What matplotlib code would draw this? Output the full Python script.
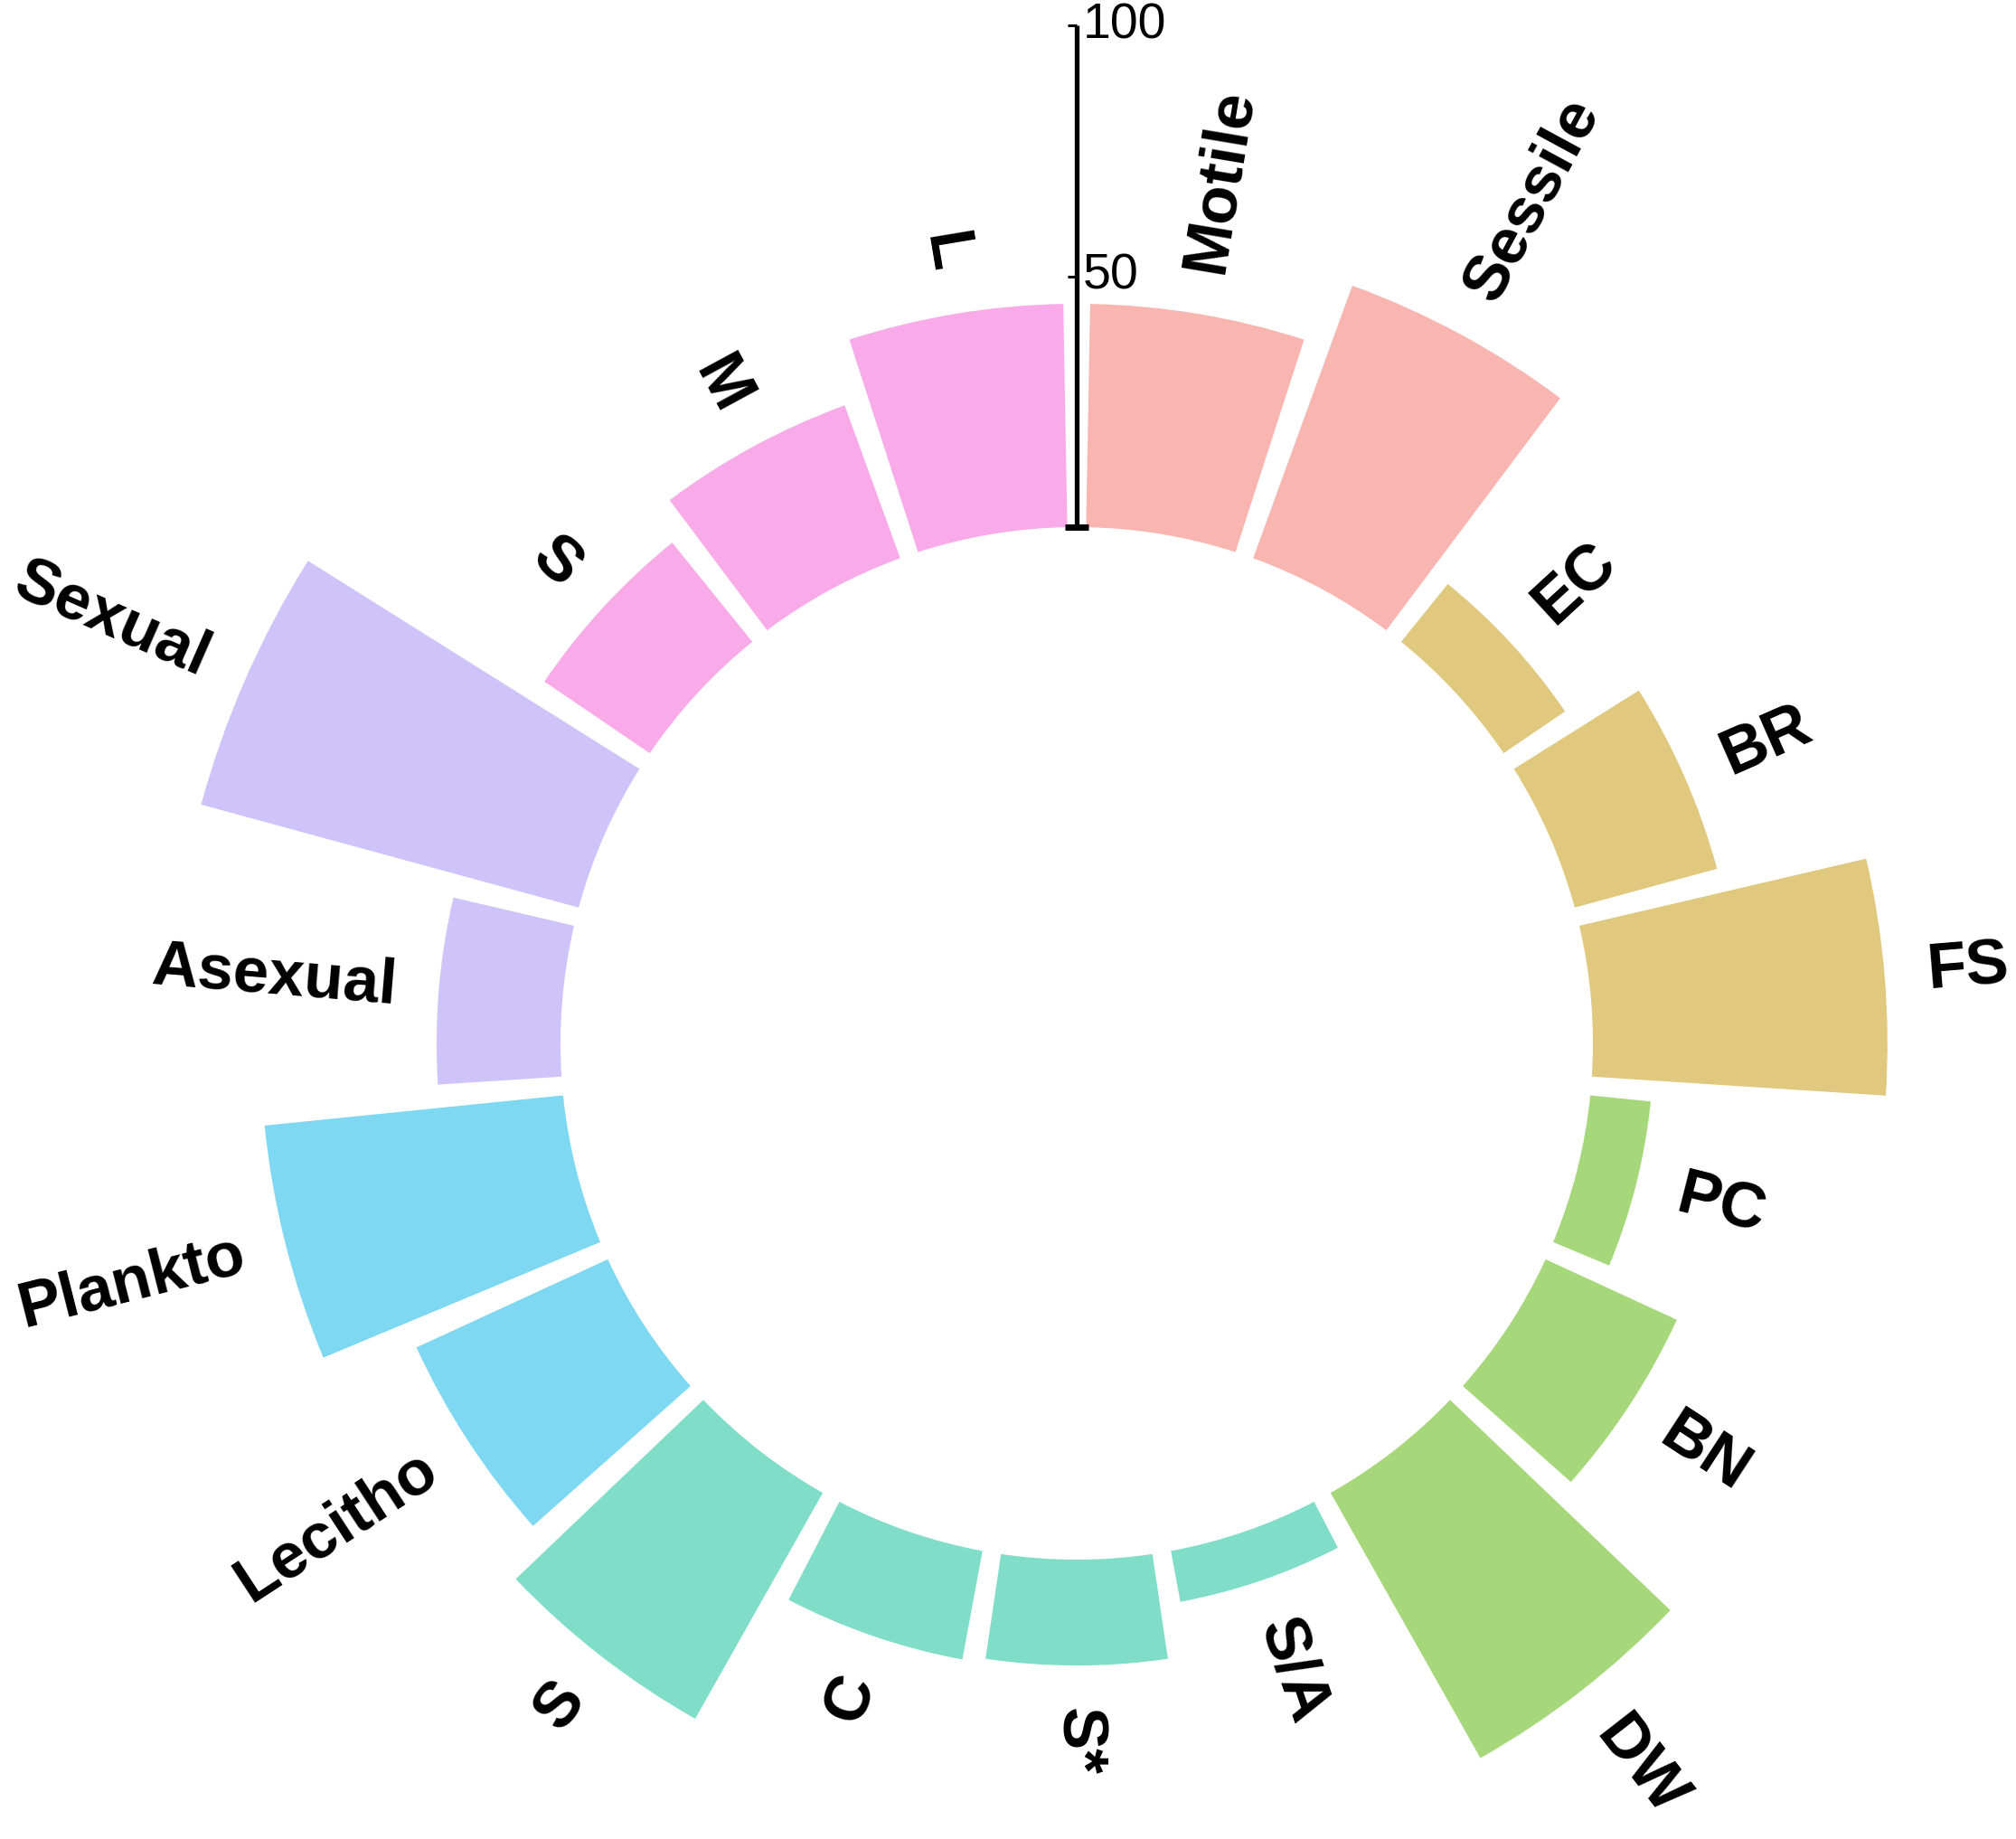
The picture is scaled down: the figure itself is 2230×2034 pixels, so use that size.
import matplotlib.pyplot as plt
import numpy as np

# traits, clockwise from the top
labels = ["Motile", "Sessile", "EC", "BR", "FS", "PC", "BN", "DW",
          "S/A", "S*", "C", "S", "Lecitho", "Plankto", "Asexual", "Sexual",
          "S", "M", "L"]
values = [44.5, 57.8, 14.8, 29.4, 58.7, 12.1, 28.8, 60.7,
          10.3, 21.1, 22.0, 51.7, 42.0, 59.8, 24.7, 78.0,
          25.4, 32.4, 44.5]
groups = [0, 0, 1, 1, 1, 2, 2, 2, 3, 3, 3, 3, 4, 4, 5, 5, 6, 6, 6]
group_colors = ["#F9B5AF", "#E0C97F", "#A6D77A", "#7FDDC8",
                "#7ED8F2", "#CFC4F9", "#F9AAE9"]
axis_ticks = [50, 100]

plt.rcParams['font.family'] = ['Liberation Sans', 'DejaVu Sans']

W, H = 2230, 2034
fig = plt.figure(figsize=(W / 100, H / 100), dpi=100)

# geometry in pixels
cx, cy = 1191, 1154      # centre of the ring (from top-left)
px_per_unit = 5.55
hole = 571 / px_per_unit
R = cy
ax = fig.add_axes([(cx - R) / W, (H - cy - R) / H, 2 * R / W, 2 * R / H],
                  projection='polar')
ax.set_theta_zero_location('N')
ax.set_theta_direction(-1)
ax.set_ylim(0, R / px_per_unit)
ax.set_axis_off()

n = len(values)
step = 2 * np.pi / n
theta = (np.arange(n) + 0.5) * step
colors = [group_colors[g] for g in groups]

ax.bar(theta, values, width=step * 0.89, bottom=hole, color=colors,
       linewidth=0)

# category labels
for t, v, lab in zip(theta, values, labels):
    ang = 90 - np.degrees(t)
    ha = 'left'
    if ang < -90:
        ang += 180
        ha = 'right'
    ax.text(t, hole + v + 8.5, lab, rotation=ang, rotation_mode='anchor',
            ha=ha, va='center', fontsize=51, fontweight='bold')

# radial scale bar
ax.plot([0, 0], [hole, hole + 100], color='black', lw=3.8,
        solid_capstyle='butt', clip_on=False)
ax.plot([0], [hole], marker='_', markersize=19, markeredgewidth=5,
        color='black', clip_on=False)
for v in axis_ticks:
    ax.plot([0], [hole + v], marker=0, markersize=7, markeredgewidth=2.2,
            color='black', clip_on=False)
    ax.annotate(str(v), xy=(0, hole + v), xytext=(5, 0),
                textcoords='offset points', ha='left', va='center',
                fontsize=40)

fig.savefig("out.png", dpi=100, facecolor='white')
